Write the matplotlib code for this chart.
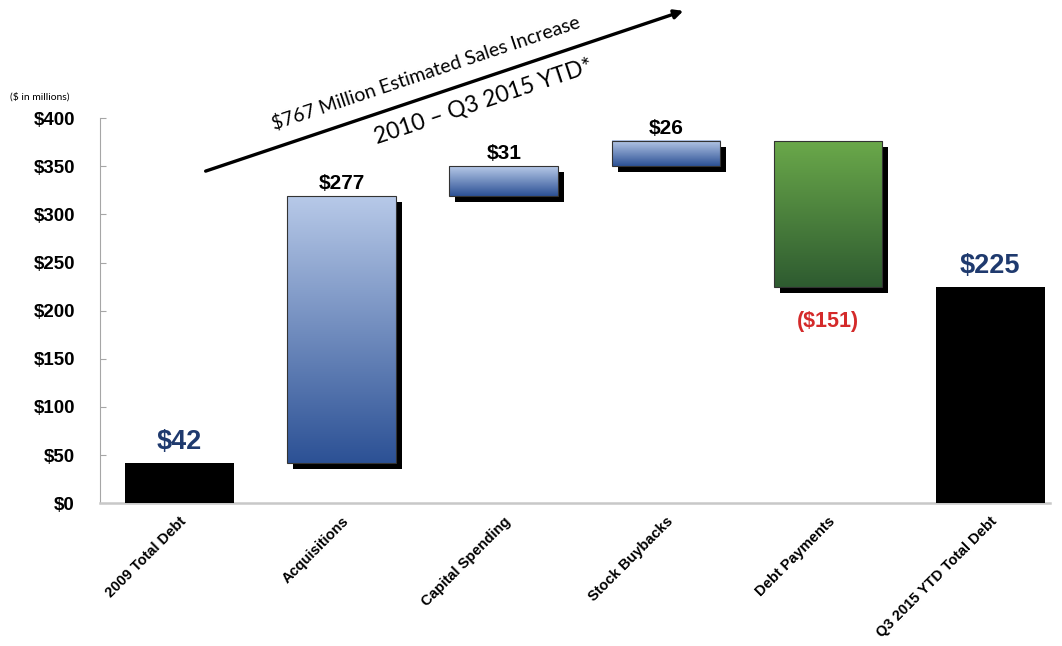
import matplotlib.pyplot as plt
import matplotlib.patheffects as pe
from matplotlib.colors import LinearSegmentedColormap
from matplotlib.patches import FancyArrowPatch
import numpy as np

# data ($ in millions)
categories = ['2009 Total Debt', 'Acquisitions', 'Capital Spending',
              'Stock Buybacks', 'Debt Payments', 'Q3 2015 YTD Total Debt']
changes = [42, 277, 31, 26, -151, 225]
kinds = ['total', 'up', 'up', 'up', 'down', 'total']
labels = ['$42', '$277', '$31', '$26', '($151)', '$225']
yticks = [0, 50, 100, 150, 200, 250, 300, 350, 400]

fig = plt.figure(figsize=(10.62, 6.46), dpi=100)
ax = fig.add_axes([0.094, 0.221, 0.895, 0.596])

blue = LinearSegmentedColormap.from_list('b', ['#2c5195', '#b7c9e8'])
green = LinearSegmentedColormap.from_list('g', ['#2e5b30', '#6aa84a'])
grad = np.linspace(0, 1, 256).reshape(-1, 1)

w = 0.67
x = np.arange(len(categories))
running = 0
for i, (c, k) in enumerate(zip(changes, kinds)):
    if k == 'total':
        bottom, top = 0, c
        running = c
        ax.bar(i, top - bottom, w, bottom=bottom, color='black', zorder=3)
    else:
        bottom, top = sorted([running, running + c])
        running += c
        # shadow
        ax.bar(i, top - bottom, w, bottom=bottom, facecolor='none', edgecolor='none', zorder=2,
               path_effects=[pe.SimplePatchShadow(offset=(4.3, -4.3), shadow_rgbFace='black', alpha=1.0)])
        cmap = blue if k == 'up' else green
        ax.imshow(grad, extent=[i - w / 2, i + w / 2, bottom, top], origin='lower',
                  aspect='auto', cmap=cmap, zorder=3)
        ax.bar(i, top - bottom, w, bottom=bottom, facecolor='none', edgecolor='#333333',
               linewidth=0.8, zorder=4)

    lab = labels[i]
    if k == 'total':
        ax.text(i, top + 8, lab, ha='center', va='bottom', fontsize=19.5, fontweight='bold',
                color='#1f3a6e', family='Liberation Sans')
    elif k == 'up':
        ax.text(i, top + 3, lab, ha='center', va='bottom', fontsize=15, fontweight='bold',
                color='black', family='Liberation Sans')
    else:
        ax.text(i, bottom - 25, lab, ha='center', va='top', fontsize=15.5, fontweight='bold',
                color='#d42a2a', family='Liberation Sans')

ax.set_xlim(-0.49, 5.37)
ax.set_ylim(0, 400)
ax.set_yticks(yticks)
ax.set_yticklabels(['$%d' % v for v in yticks], fontsize=13.5, fontweight='bold',
                   family='Liberation Sans')
ax.set_xticks(x)
ax.set_xticklabels(categories, rotation=45, ha='right', rotation_mode='anchor',
                   fontsize=10.5, fontweight='bold', family='Liberation Sans')
ax.tick_params(axis='x', length=0, pad=8)
ax.tick_params(axis='y', direction='in', length=4, color='#a6a6a6', pad=18)
for s in ['top', 'right']:
    ax.spines[s].set_visible(False)
ax.spines['left'].set_color('#a6a6a6')
ax.spines['bottom'].set_color('#c8c8c8')
ax.spines['bottom'].set_linewidth(1.8)

fig.text(10 / 1062, 1 - 97 / 646, '($ in millions)', fontsize=7.5, family='Lato', va='center')

# sales increase arrow
fig.add_artist(FancyArrowPatch(
    (203 / 1062, 1 - 172 / 646), (686 / 1062, 1 - 10 / 646), transform=fig.transFigure,
    arrowstyle='-|>', mutation_scale=13, linewidth=2.4, color='black'))
fig.text(426 / 1062, 1 - 73 / 646, '$767 Million Estimated Sales Increase', rotation=18.5,
         ha='center', va='center', fontsize=14, family='Lato', rotation_mode='anchor')
fig.text(483 / 1062, 1 - 101 / 646, '2010 \u2013 Q3 2015 YTD*', rotation=18.5,
         ha='center', va='center', fontsize=16.5, family='Lato', rotation_mode='anchor')

fig.savefig('out.png', dpi=100)
